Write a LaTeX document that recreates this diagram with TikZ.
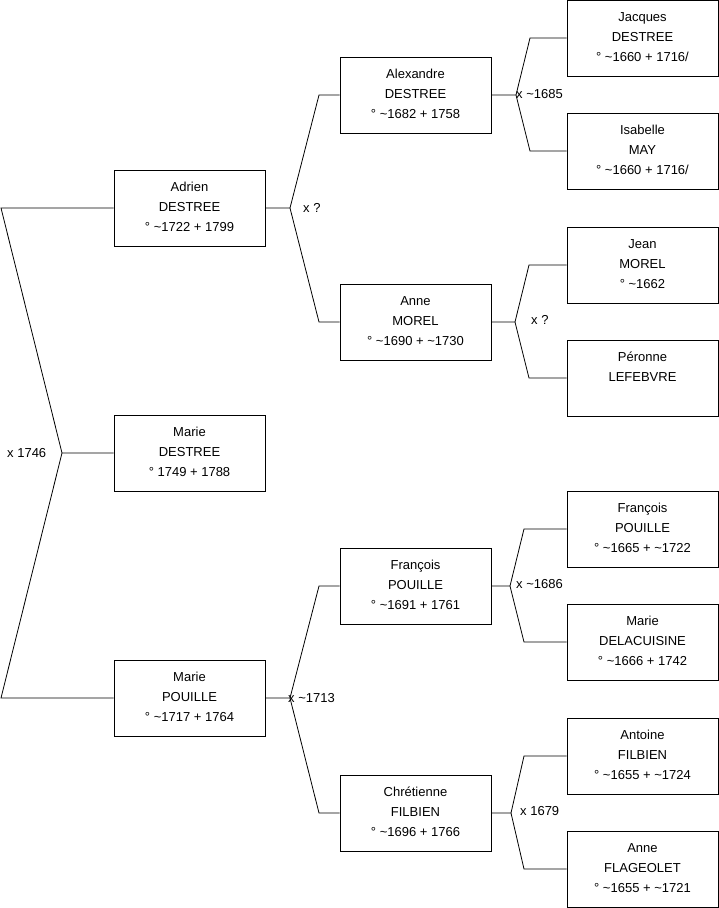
\documentclass[tikz,border=0pt]{standalone}
\usepackage{fontspec}
\setmainfont{Liberation Sans}
\newcommand{\pers}[3]{#1\\#2\\#3\rule[-2pt]{0pt}{2pt}}
\begin{document}
\begin{tikzpicture}[x=1pt,y=-1pt,
 person/.style={draw=black, line width=0.8pt, minimum width=151pt, minimum height=76pt, inner sep=0pt, align=center, font=\fontsize{13}{20}\selectfont},
 link/.style={draw=black, line width=0.8pt},
 lbl/.style={font=\fontsize{13}{15}\selectfont, inner sep=0pt, anchor=base west}]
\useasboundingbox (0,0) rectangle (719,908);
% column 1
\node[person] (adrien) at (189.5,208) {\pers{Adrien}{DESTREE}{° \textasciitilde1722 + 1799}};
\node[person] (marieD) at (189.5,453) {\pers{Marie}{DESTREE}{° 1749 + 1788}};
\node[person] (marieP) at (189.5,698) {\pers{Marie}{POUILLE}{° \textasciitilde1717 + 1764}};
% column 2
\node[person] (alex) at (415.5,95) {\pers{Alexandre}{DESTREE}{° \textasciitilde1682 + 1758}};
\node[person] (anneM) at (415.5,322) {\pers{Anne}{MOREL}{° \textasciitilde1690 + \textasciitilde1730}};
\node[person] (francP) at (415.5,586) {\pers{François}{POUILLE}{° \textasciitilde1691 + 1761}};
\node[person] (chret) at (415.5,813) {\pers{Chrétienne}{FILBIEN}{° \textasciitilde1696 + 1766}};
% column 3
\node[person] (jacques) at (642.5,38) {\pers{Jacques}{DESTREE}{° \textasciitilde1660 + 1716/}};
\node[person] (isab) at (642.5,151) {\pers{Isabelle}{MAY}{° \textasciitilde1660 + 1716/}};
\node[person] (jean) at (642.5,265) {\pers{Jean}{MOREL}{° \textasciitilde1662}};
\node[person] (peronne) at (642.5,378) {\pers{Péronne}{LEFEBVRE}{}};
\node[person] (franc) at (642.5,529) {\pers{François}{POUILLE}{° \textasciitilde1665 + \textasciitilde1722}};
\node[person] (marieDel) at (642.5,642) {\pers{Marie}{DELACUISINE}{° \textasciitilde1666 + 1742}};
\node[person] (antoine) at (642.5,756) {\pers{Antoine}{FILBIEN}{° \textasciitilde1655 + \textasciitilde1724}};
\node[person] (anneF) at (642.5,869) {\pers{Anne}{FLAGEOLET}{° \textasciitilde1655 + \textasciitilde1721}};
% junction points
\coordinate (L1) at (1,208); \coordinate (L2) at (1,698); \coordinate (LJ) at (62,453);
\coordinate (AJ) at (290,208); \coordinate (AU) at (319,95); \coordinate (AD) at (319,322);
\coordinate (BJ) at (516,95); \coordinate (BU) at (530,38); \coordinate (BD) at (530,151);
\coordinate (CJ) at (515,322); \coordinate (CU) at (529,265); \coordinate (CD) at (529,378);
\coordinate (DJ) at (290,698); \coordinate (DU) at (319,586); \coordinate (DD) at (319,813);
\coordinate (EJ) at (510,586); \coordinate (EU) at (524,529); \coordinate (ED) at (524,642);
\coordinate (FJ) at (511,813); \coordinate (FU) at (524,756); \coordinate (FD) at (524,869);
% connectors
\draw[link] (adrien.west) -- (L1) -- (LJ) -- (marieD.west);
\draw[link] (marieP.west) -- (L2) -- (LJ);
\draw[link] (adrien.east) -- (AJ) -- (AU) -- (alex.west);
\draw[link] (AJ) -- (AD) -- (anneM.west);
\draw[link] (alex.east) -- (BJ) -- (BU) -- (jacques.west);
\draw[link] (BJ) -- (BD) -- (isab.west);
\draw[link] (anneM.east) -- (CJ) -- (CU) -- (jean.west);
\draw[link] (CJ) -- (CD) -- (peronne.west);
\draw[link] (marieP.east) -- (DJ) -- (DU) -- (francP.west);
\draw[link] (DJ) -- (DD) -- (chret.west);
\draw[link] (francP.east) -- (EJ) -- (EU) -- (franc.west);
\draw[link] (EJ) -- (ED) -- (marieDel.west);
\draw[link] (chret.east) -- (FJ) -- (FU) -- (antoine.west);
\draw[link] (FJ) -- (FD) -- (anneF.west);
% marriage labels
\node[lbl] (m0) at (7,457) {x 1746};
\node[lbl] (m1) at (303,212) {x ?};
\node[lbl] (m2) at (516,98) {x \textasciitilde1685};
\node[lbl] (m3) at (531,324) {x ?};
\node[lbl] (m4) at (288,702) {x \textasciitilde1713};
\node[lbl] (m5) at (516,588) {x \textasciitilde1686};
\node[lbl] (m6) at (520,815) {x 1679};
\end{tikzpicture}
\end{document}
